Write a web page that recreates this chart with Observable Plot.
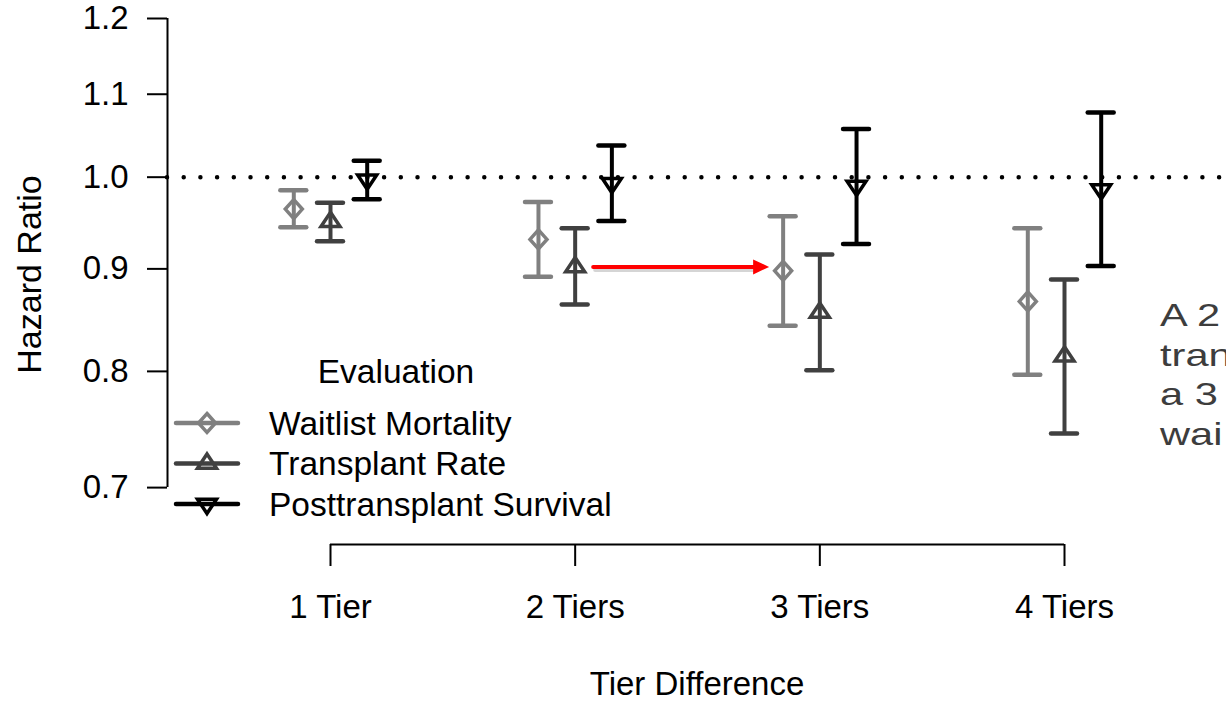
<!DOCTYPE html>
<html>
<head>
<meta charset="utf-8">
<script src="https://cdn.jsdelivr.net/npm/d3@7"></script>
<script src="https://cdn.jsdelivr.net/npm/@observablehq/plot@0.6"></script>
<style>
  html, body { margin: 0; padding: 0; background: #fff; overflow: hidden; }
  #wrap { position: relative; width: 1226px; height: 701px; overflow: hidden; font-family: "Liberation Sans", Arial, sans-serif; }
  #note { position: absolute; left: 1160px; top: 296px; font-size: 32px; line-height: 39.5px; color: #3d3d3d;
          white-space: pre; transform: scaleX(1.3); transform-origin: left top; }
  #wrap svg [aria-label="y-axis tick"], #wrap svg [aria-label="x-axis tick"] { stroke-width: 2px; }
  #wrap svg [aria-label="y-axis tick label"], #wrap svg [aria-label="x-axis tick label"] { font-size: 33px; }
</style>
</head>
<body>
<div id="wrap"></div>
<script>
// ---------------- data ----------------
const tiers = [1, 2, 3, 4];
const tierLabels = ["1 Tier", "2 Tiers", "3 Tiers", "4 Tiers"];
const series = ["Waitlist Mortality", "Transplant Rate", "Posttransplant Survival"];
const seriesColors = ["#808080", "#404040", "#000000"];
const seriesOffsets = [-0.15, 0, 0.15];

const waitlistHR = [0.964, 0.931, 0.898, 0.867];
const waitlistLo = [0.944, 0.892, 0.843, 0.797];
const waitlistHi = [0.985, 0.972, 0.956, 0.943];

const transplantHR = [0.950, 0.902, 0.856, 0.814];
const transplantLo = [0.929, 0.864, 0.801, 0.745];
const transplantHi = [0.971, 0.943, 0.915, 0.889];

const postHR = [0.997, 0.993, 0.990, 0.986];
const postLo = [0.975, 0.951, 0.926, 0.903];
const postHi = [1.019, 1.037, 1.057, 1.077];

const yTicks = [0.7, 0.8, 0.9, 1.0, 1.1, 1.2];
const refLine = 1.0;
const noteLines = ["A 2", "tran", "a 3", "wai"];

// ---------------- build table ----------------
const hrs = [waitlistHR, transplantHR, postHR];
const los = [waitlistLo, transplantLo, postLo];
const his = [waitlistHi, transplantHi, postHi];
const rows = [];
series.forEach((s, si) => {
  tiers.forEach((t, ti) => {
    rows.push({series: s, tier: t, xpos: t + seriesOffsets[si], hr: hrs[si][ti], lo: los[si][ti], hi: his[si][ti]});
  });
});

// symbols (R pch 5, 2, 6)
const diamondSym = {draw(c) { c.moveTo(0, -9.5); c.lineTo(8.5, 0); c.lineTo(0, 9.5); c.lineTo(-8.5, 0); c.closePath(); }};
const triUpSym = {draw(c) { c.moveTo(0, -9.5); c.lineTo(9.5, 4.75); c.lineTo(-9.5, 4.75); c.closePath(); }};
const triDownSym = {draw(c) { c.moveTo(0, 9.5); c.lineTo(9.5, -4.75); c.lineTo(-9.5, -4.75); c.closePath(); }};
const arrowHeadSym = {draw(c) { c.moveTo(0, 0); c.lineTo(-16, -7.5); c.lineTo(-16, 7.5); c.closePath(); }};
const symbols = [diamondSym, triUpSym, triDownSym];

// annotation arrow: from transplant (2 tiers) across to waitlist (3 tiers)
const arrowData = [{x1: tiers[1] + seriesOffsets[1], x2: tiers[2] + seriesOffsets[0], y: transplantHR[1]}];

// scale extents
const xDomain = [0.3338, 4.6621];
const yDomain = [0.6557, 1.2];
const capHalf = 0.053;

const font = "'Liberation Sans', Arial, sans-serif";

const chart = Plot.plot({
  width: 1226,
  height: 701,
  marginLeft: 167,
  marginRight: 0,
  marginTop: 18,
  marginBottom: 157,
  style: {fontSize: "33px", fontFamily: font, color: "black", background: "white", overflow: "visible"},
  x: {domain: xDomain, ticks: tiers, tickFormat: d => tierLabels[tiers.indexOf(d)], tickSize: 22, tickPadding: 28, label: null},
  y: {type: "log", domain: yDomain, ticks: yTicks, tickFormat: d => d.toFixed(1), tickSize: 20, tickPadding: 19, label: null},
  color: {domain: series, range: seriesColors},
  marks: [
    // axis lines (R-style detached)
    Plot.ruleX([xDomain[0]], {y1: yTicks[0], y2: yTicks[yTicks.length - 1], stroke: "black", strokeWidth: 2}),
    Plot.ruleY([yDomain[0]], {x1: tiers[0], x2: tiers[tiers.length - 1], stroke: "black", strokeWidth: 2}),
    // reference line
    Plot.ruleY([refLine], {stroke: "black", strokeWidth: 4.5, strokeDasharray: "0,16.7", strokeLinecap: "round"}),
    // error bars
    Plot.ruleX(rows, {x: "xpos", y1: "lo", y2: "hi", stroke: "series", strokeWidth: 4}),
    Plot.ruleY(rows, {y: "hi", x1: d => d.xpos - capHalf, x2: d => d.xpos + capHalf, stroke: "series", strokeWidth: 4.5, strokeLinecap: "round"}),
    Plot.ruleY(rows, {y: "lo", x1: d => d.xpos - capHalf, x2: d => d.xpos + capHalf, stroke: "series", strokeWidth: 4.5, strokeLinecap: "round"}),
    // point estimates
    ...series.map((s, si) => Plot.dot(rows.filter(d => d.series === s), {
      x: "xpos", y: "hr", symbol: symbols[si], stroke: "series", fill: "none", strokeWidth: 3.5
    })),
    // annotation arrow (shadow + arrow)
    Plot.arrow(arrowData, {x1: "x1", x2: "x2", y1: "y", y2: "y", stroke: "#888", strokeOpacity: 0.35, strokeWidth: 4, headLength: 0, insetStart: 18, insetEnd: 28, dx: 2, dy: 3}),
    Plot.arrow(arrowData, {x1: "x1", x2: "x2", y1: "y", y2: "y", stroke: "#ff0000", strokeWidth: 4, headLength: 0, insetStart: 18, insetEnd: 28}),
    Plot.dot(arrowData, {x: "x2", y: "y", symbol: arrowHeadSym, fill: "#ff0000", stroke: "none", dx: -14}),
    // axis titles
    Plot.text(["Hazard Ratio"], {frameAnchor: "left", textAnchor: "middle", dx: -137, dy: -7, rotate: -90, fontSize: 34, lineAnchor: "middle", fill: "black"}),
    Plot.text(["Tier Difference"], {frameAnchor: "bottom", textAnchor: "middle", dy: 140, fontSize: 33, lineAnchor: "middle", fill: "black"})
  ]
});

document.getElementById("wrap").appendChild(chart);

// legend (R legend, no box)
const svg = d3.select(chart.tagName.toLowerCase() === "svg" ? chart : chart.querySelector("svg"));
const lg = svg.append("g").attr("font-family", font).attr("font-size", 33.5).attr("fill", "black").attr("text-anchor", "start");
lg.append("text").attr("x", 396).attr("y", 383).attr("text-anchor", "middle").text("Evaluation");
series.forEach((s, i) => {
  const y = 423 + i * 40.5;
  lg.append("line").attr("x1", 176).attr("x2", 238).attr("y1", y).attr("y2", y)
    .attr("stroke", seriesColors[i]).attr("stroke-width", 4.5).attr("stroke-linecap", "round");
  const p = d3.path(); symbols[i].draw(p);
  lg.append("path").attr("d", p.toString()).attr("transform", `translate(207,${y})`)
    .attr("fill", "none").attr("stroke", seriesColors[i]).attr("stroke-width", 3.5);
  lg.append("text").attr("x", 269).attr("y", y).attr("dy", "0.35em").attr("text-anchor", "start").text(s);
});

// clipped slide note at right edge
const note = document.createElement("div");
note.id = "note";
note.textContent = noteLines.join("\n");
document.getElementById("wrap").appendChild(note);
</script>
</body>
</html>
